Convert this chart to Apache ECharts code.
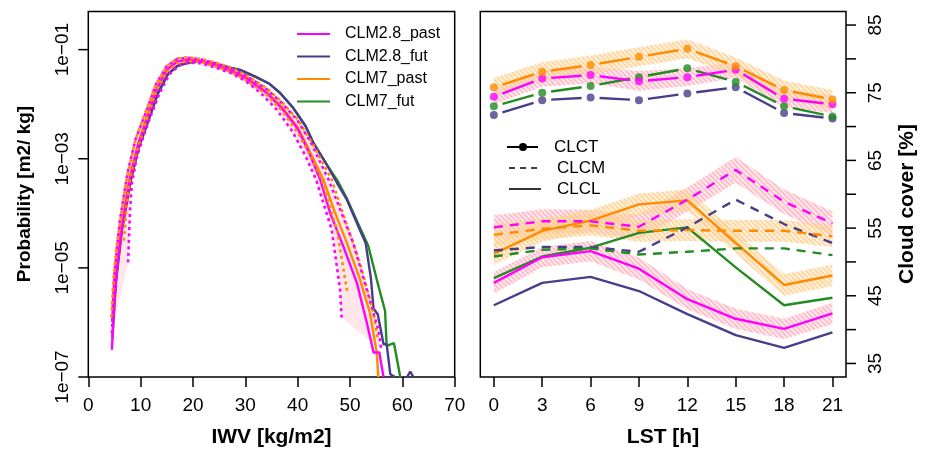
<!DOCTYPE html>
<html><head><meta charset="utf-8">
<script src="https://cdn.jsdelivr.net/npm/echarts@6/dist/echarts.min.js"></script>
<style>html,body{margin:0;padding:0;background:#fff}#c{width:928px;height:453px}</style>
</head><body><div id="c"></div>
<script>
// ================= LEFT PANEL DATA (IWV pdf) =================
const iwvTicks = [0, 10, 20, 30, 40, 50, 60, 70];
const probTickValues = [1e-7, 1e-5, 1e-3, 1e-1];
const probTickLabels = ['1e\u221207', '1e\u221205', '1e\u221203', '1e\u221201'];

const c28past_x = [4.5, 5.0, 5.5, 6.4, 8.0, 9.5, 11.2, 13.1, 15.0, 17.0, 19.0, 21.3, 24, 27, 30, 34, 37, 40, 42, 44.3, 46.2, 48.7, 51.3, 53.2, 54.5, 55.6, 56.4];
const c28past_p = [3.16e-7, 2.51e-6, 1e-5, 5.01e-5, 4.47e-4, 1.78e-3, 5.25e-3, 1.86e-2, 4.27e-2, 6.03e-2, 6.46e-2, 6.17e-2, 5.25e-2, 4.17e-2, 3.02e-2, 1.62e-2, 8.32e-3, 3.55e-3, 1.41e-3, 4.17e-4, 1.02e-4, 2.51e-5, 5.37e-6, 1e-6, 2.82e-7, 2.82e-7, 1e-7];

const c28fut_x = [4.6, 5.3, 6.4, 8.1, 9.6, 11.4, 13.3, 15.2, 17.0, 19.0, 21.5, 24, 27, 29, 32, 34.5, 36.6, 39, 41.5, 43.0, 45.5, 47.5, 49.4, 51.6, 53.0, 54.0, 54.5, 55.3, 56.0, 56.4, 57.0, 57.7, 58.6];
const c28fut_p = [1e-6, 6.31e-6, 5.01e-5, 3.98e-4, 1.58e-3, 4.79e-3, 1.58e-2, 3.55e-2, 5.01e-2, 5.75e-2, 6.03e-2, 5.50e-2, 4.68e-2, 4.27e-2, 3.16e-2, 2.40e-2, 1.62e-2, 8.91e-3, 3.98e-3, 1.95e-3, 7.94e-4, 3.63e-4, 1.78e-4, 5.75e-5, 2.82e-5, 6.31e-6, 1.78e-6, 1.41e-6, 6.31e-7, 3.98e-7, 3.98e-7, 1.12e-7, 1e-7];
// isolated far-tail blip of CLM2.8_fut
const c28futTail_x = [60.9, 61.5, 62.1];
const c28futTail_p = [1e-7, 1.25e-7, 1e-7];

const c7past_x = [4.6, 5.3, 6.3, 7.9, 9.5, 11.1, 13, 15, 17, 19, 21.3, 24, 27, 30, 34, 37, 40, 42.5, 44.9, 47, 49.4, 51.9, 53.8, 55.1, 55.4];
const c7past_p = [1.86e-6, 1e-5, 5.62e-5, 4.68e-4, 1.86e-3, 5.62e-3, 1.91e-2, 4.27e-2, 6.03e-2, 6.46e-2, 6.17e-2, 5.25e-2, 4.27e-2, 3.16e-2, 1.70e-2, 8.91e-3, 3.80e-3, 1.26e-3, 4.17e-4, 1.12e-4, 2.88e-5, 6.17e-6, 1.51e-6, 2.82e-7, 1e-7];

const c7fut_x = [4.6, 5.3, 6.4, 8.1, 9.6, 11.4, 13.3, 15.2, 17, 19, 21.5, 24, 27, 29, 32, 34.5, 36.6, 39, 41.5, 43.0, 45.5, 47.6, 49.5, 51.8, 53.5, 55.1, 56.7, 57.0, 58.4, 59.6];
const c7fut_p = [5.01e-7, 5.62e-6, 4.79e-5, 3.98e-4, 1.58e-3, 4.79e-3, 1.58e-2, 3.55e-2, 5.01e-2, 5.89e-2, 6.17e-2, 5.62e-2, 4.68e-2, 4.27e-2, 3.16e-2, 2.40e-2, 1.62e-2, 8.91e-3, 3.98e-3, 1.95e-3, 7.94e-4, 3.98e-4, 1.78e-4, 5.75e-5, 2.51e-5, 6.17e-6, 1.62e-6, 3.72e-7, 4.17e-7, 1e-7];

// spread (dotted) bounds
const c28upper_x = [4.5, 5.0, 6.0, 7.5, 9, 11, 13, 15, 17, 19, 21.5, 24, 27, 30, 34, 37, 40, 42.5, 45.9, 48, 50.6, 53.2, 55.4, 56.0];
const c28upper_p = [6.31e-7, 7.94e-6, 7.08e-5, 5.62e-4, 2.24e-3, 7.08e-3, 2.40e-2, 5.01e-2, 6.76e-2, 7.08e-2, 6.61e-2, 5.75e-2, 4.68e-2, 3.39e-2, 1.91e-2, 1.05e-2, 5.01e-3, 2.0e-3, 4.17e-4, 1.26e-4, 2.88e-5, 3.98e-6, 7.41e-7, 3.16e-7];
const c28lower_x = [7.6, 7.95, 8.3, 9.2, 10.5, 12, 13.6, 15.5, 17.5, 19.5, 21.5, 24, 27, 30, 33, 36, 39, 41.5, 43.5, 46.5, 48.1, 48.4];
const c28lower_p = [1.26e-5, 1e-4, 3.39e-4, 1e-3, 2.51e-3, 6.31e-3, 1.58e-2, 3.55e-2, 5.25e-2, 5.75e-2, 5.62e-2, 4.79e-2, 3.80e-2, 2.69e-2, 1.58e-2, 7.94e-3, 3.16e-3, 1.12e-3, 4.17e-4, 5.01e-5, 3.98e-6, 1.20e-6];
const c7upper_x = [4.4, 4.8, 5.4, 6.3, 7.3, 9, 11, 13, 15, 17, 19, 21.5, 24, 27, 30, 34, 37, 40, 43, 46.5, 49, 51.9, 54.5, 55.3];
const c7upper_p = [1.26e-6, 6.31e-6, 2.51e-5, 1e-4, 4.17e-4, 2.24e-3, 7.59e-3, 2.40e-2, 5.01e-2, 6.92e-2, 7.24e-2, 6.76e-2, 5.89e-2, 4.79e-2, 3.47e-2, 2.0e-2, 1.10e-2, 5.25e-3, 1.78e-3, 4.17e-4, 7.94e-5, 1.23e-5, 1.51e-6, 5.01e-7];
const c7lower_x = [6.8, 7.3, 8, 9.5, 11.2, 13, 15, 17, 19, 21.5, 24, 27, 30, 34, 37, 40, 42.5, 44.6, 47.5, 49.5];
const c7lower_p = [3.16e-5, 1.26e-4, 4.47e-4, 1.58e-3, 5.25e-3, 1.78e-2, 3.98e-2, 5.62e-2, 6.17e-2, 5.89e-2, 5.01e-2, 3.98e-2, 2.82e-2, 1.51e-2, 7.59e-3, 3.02e-3, 1.12e-3, 4.17e-4, 5.01e-5, 3.47e-6];

const leftLegend = ['CLM2.8_past', 'CLM2.8_fut', 'CLM7_past', 'CLM7_fut'];

// ================= RIGHT PANEL DATA (diurnal cycle) =================
const lstHours = [0, 3, 6, 9, 12, 15, 18, 21];
const cloudTicks = [35, 40, 45, 50, 55, 60, 65, 70, 75, 80, 85];
const cloudLabels = [35, 45, 55, 65, 75, 85];

const clct_c28past = [74.4, 77.1, 77.6, 76.7, 77.3, 78.4, 74.1, 73.3];
const clct_c28fut  = [71.7, 73.9, 74.3, 73.9, 74.9, 75.8, 72.0, 71.2];
const clct_c7past  = [75.8, 78.1, 79.1, 80.3, 81.5, 78.9, 75.4, 74.0];
const clct_c7fut   = [73.0, 75.0, 76.0, 77.3, 78.6, 76.6, 73.0, 71.5];

const clcm_c28past = [55.1, 56.0, 56.0, 55.2, 59.2, 63.6, 58.9, 55.7];
const clcm_c28fut  = [51.7, 52.2, 52.2, 51.5, 55.1, 59.2, 55.6, 52.8];
const clcm_c7past  = [54.0, 54.9, 55.4, 54.6, 54.7, 54.6, 54.6, 53.8];
const clcm_c7fut   = [50.8, 51.8, 52.0, 51.1, 51.5, 52.0, 52.0, 51.0];

const clcl_c28past = [46.9, 50.7, 51.6, 49.0, 44.5, 41.6, 40.1, 42.4];
const clcl_c28fut  = [43.6, 46.9, 47.8, 45.7, 42.3, 39.2, 37.3, 39.6];
const clcl_c7past  = [51.2, 54.6, 56.1, 58.5, 59.1, 52.8, 46.6, 48.0];
const clcl_c7fut   = [47.6, 50.8, 52.1, 54.3, 55.1, 49.2, 43.6, 44.7];

// spread bands (past runs)
const clct_c28past_lo = [73.3, 75.9, 76.4, 75.3, 76.0, 77.2, 72.8, 72.0];
const clct_c28past_hi = [75.5, 78.3, 78.8, 78.2, 78.6, 79.5, 75.4, 74.6];
const clct_c7past_lo  = [74.6, 76.8, 77.7, 78.9, 80.1, 77.5, 74.0, 72.6];
const clct_c7past_hi  = [77.2, 79.5, 80.5, 81.7, 82.9, 80.2, 76.8, 75.4];
const clcm_c28past_lo = [53.3, 54.2, 54.3, 53.4, 57.4, 61.7, 57.1, 53.9];
const clcm_c28past_hi = [56.9, 57.8, 57.7, 57.0, 61.0, 65.5, 60.7, 57.5];
const clcm_c7past_lo  = [52.4, 53.3, 53.9, 53.0, 53.1, 53.0, 53.0, 52.2];
const clcm_c7past_hi  = [55.6, 56.5, 57.0, 56.2, 56.3, 56.2, 56.2, 55.4];
const clcl_c28past_lo = [45.3, 49.2, 50.1, 47.4, 43.0, 40.1, 38.6, 40.8];
const clcl_c28past_hi = [48.5, 52.2, 53.1, 50.6, 46.0, 43.1, 41.6, 44.0];
const clcl_c7past_lo  = [49.6, 53.0, 54.5, 56.9, 57.5, 51.2, 45.0, 46.4];
const clcl_c7past_hi  = [52.8, 56.2, 57.7, 60.1, 60.7, 54.4, 48.2, 49.6];

const rightLegend = ['CLCT', 'CLCM', 'CLCL'];

// ================= STYLE =================
const COL = { c28past: '#FF00FF', c28fut: '#483D8B', c7past: '#FF8C00', c7fut: '#228B22' };
const FONT = "'Liberation Sans', Arial, Helvetica, sans-serif";

function hatch(r, g, b) {
  const n = 5;
  const cv = document.createElement('canvas'); cv.width = n; cv.height = n;
  const ctx = cv.getContext('2d');
  ctx.fillStyle = `rgba(${r},${g},${b},0.30)`; ctx.fillRect(0, 0, n, n);
  ctx.strokeStyle = `rgba(${r},${g},${b},0.9)`; ctx.lineWidth = 1.4;
  ctx.beginPath();
  ctx.moveTo(-1, -1); ctx.lineTo(n + 1, n + 1);
  ctx.moveTo(-1, n - 1); ctx.lineTo(1, n + 1);
  ctx.moveTo(n - 1, -1); ctx.lineTo(n + 1, 1);
  ctx.stroke();
  return { image: cv, repeat: 'repeat' };
}
const pinkHatch = hatch(255, 175, 190);
const orangeHatch = hatch(255, 205, 140);

const zip = (xs, ys) => xs.map((x, i) => [x, ys[i]]);

function pdfLine(xs, ps, color, dotted, z) {
  return {
    type: 'line', xAxisIndex: 0, yAxisIndex: 0, data: zip(xs, ps),
    showSymbol: false, symbol: 'none', silent: true, clip: true, z: z,
    lineStyle: dotted ? { color: color, width: 2.6, type: [3, 3.5] } : { color: color, width: 2.4 }
  };
}

function pdfBand(ux, up, lx, lp, fill) {
  return {
    type: 'custom', xAxisIndex: 0, yAxisIndex: 0, clip: true, silent: true, z: 1,
    data: zip(ux, up), encode: { x: 0, y: 1 },
    renderItem: function (params, api) {
      if (params.dataIndex !== 0) return null;
      const pts = [];
      for (let i = 0; i < ux.length; i++) pts.push(api.coord([ux[i], up[i]]));
      for (let i = lx.length - 1; i >= 0; i--) pts.push(api.coord([lx[i], lp[i]]));
      return { type: 'polygon', shape: { points: pts }, style: { fill: fill, stroke: null } };
    }
  };
}

function band(lo, hi, fill) {
  return {
    type: 'custom', xAxisIndex: 1, yAxisIndex: 1, clip: true, silent: true, z: 1,
    data: lstHours.map((h, i) => [h, lo[i], hi[i]]), encode: { x: 0, y: [1, 2] },
    renderItem: function (params, api) {
      if (params.dataIndex !== 0) return null;
      const pts = [];
      for (let i = 0; i < lstHours.length; i++) pts.push(api.coord([lstHours[i], hi[i]]));
      for (let i = lstHours.length - 1; i >= 0; i--) pts.push(api.coord([lstHours[i], lo[i]]));
      return { type: 'polygon', shape: { points: pts }, style: { fill: fill, stroke: null } };
    }
  };
}

function diurnal(vals, color, dashed) {
  return {
    type: 'line', xAxisIndex: 1, yAxisIndex: 1, data: zip(lstHours, vals),
    showSymbol: false, symbol: 'none', silent: true, z: 3,
    lineStyle: dashed ? { color: color, width: 2.4, type: [9, 7] } : { color: color, width: 2.4 }
  };
}

// type="b": segments with gaps around the points
function gapLine(vals, color) {
  return {
    type: 'custom', xAxisIndex: 1, yAxisIndex: 1, silent: true, z: 3,
    data: zip(lstHours, vals), encode: { x: 0, y: 1 },
    renderItem: function (params, api) {
      const i = params.dataIndex;
      if (i >= lstHours.length - 1) return null;
      const a = api.coord([lstHours[i], vals[i]]);
      const b = api.coord([lstHours[i + 1], vals[i + 1]]);
      const dx = b[0] - a[0], dy = b[1] - a[1], L = Math.hypot(dx, dy), g = 9;
      return { type: 'line', shape: { x1: a[0] + dx * g / L, y1: a[1] + dy * g / L, x2: b[0] - dx * g / L, y2: b[1] - dy * g / L },
        style: { stroke: color, lineWidth: 2.4 } };
    }
  };
}
function dots(vals, color) {
  return {
    type: 'scatter', xAxisIndex: 1, yAxisIndex: 1, data: zip(lstHours, vals), silent: true, z: 4,
    symbol: 'circle', symbolSize: 8, itemStyle: { color: color }
  };
}

const tickStyle = { show: true, length: 10, inside: false, lineStyle: { color: '#000', width: 1.5 } };
const labelBase = { color: '#000', fontFamily: FONT, fontSize: 19 };

const option = {
  animation: false,
  backgroundColor: '#fff',
  grid: [
    { left: 88.3, top: 11.5, width: 366.4, height: 365.5, show: true, borderColor: '#000', borderWidth: 1.5, backgroundColor: 'transparent', containLabel: false, outerBoundsMode: 'none' },
    { left: 480.3, top: 11.5, width: 365.7, height: 365.5, show: true, borderColor: '#000', borderWidth: 1.5, backgroundColor: 'transparent', containLabel: false, outerBoundsMode: 'none' }
  ],
  xAxis: [
    { type: 'value', gridIndex: 0, min: 0, max: 70, interval: 10,
      axisLine: { show: false }, splitLine: { show: false },
      axisTick: tickStyle,
      axisLabel: Object.assign({ margin: 19, showMinLabel: true, showMaxLabel: true, customValues: iwvTicks }, labelBase) },
    { type: 'value', gridIndex: 1, min: -0.84, max: 21.84,
      axisLine: { show: false }, splitLine: { show: false },
      axisTick: Object.assign({ customValues: lstHours }, tickStyle),
      axisLabel: Object.assign({ margin: 19, customValues: lstHours }, labelBase) }
  ],
  yAxis: [
    { type: 'log', gridIndex: 0, logBase: 10, min: 1e-7, max: 0.5,
      axisLine: { show: false }, splitLine: { show: false },
      axisTick: { show: false },
      axisLabel: Object.assign({ margin: 16, rotate: 90, customValues: probTickValues,
        formatter: function (v) {
          const i = probTickValues.findIndex(t => Math.abs(Math.log10(t) - Math.log10(v)) < 1e-6);
          return i >= 0 ? probTickLabels[i] : '';
        } }, labelBase) },
    { type: 'value', gridIndex: 1, position: 'right', min: 33, max: 87,
      axisLine: { show: false }, splitLine: { show: false },
      axisTick: { show: false },
      axisLabel: Object.assign({ margin: 20, rotate: 90, customValues: cloudLabels }, labelBase) }
  ],
  series: [
    // left panel
    pdfBand(c28upper_x, c28upper_p, c28lower_x, c28lower_p, 'rgba(255,192,203,0.40)'),
    pdfLine(c7fut_x, c7fut_p, COL.c7fut, false, 2),
    pdfLine(c28fut_x, c28fut_p, COL.c28fut, false, 2),
    pdfLine(c28futTail_x, c28futTail_p, COL.c28fut, false, 2),
    pdfLine(c7past_x, c7past_p, COL.c7past, false, 2),
    pdfLine(c28past_x, c28past_p, COL.c28past, false, 2),
    pdfLine(c7upper_x, c7upper_p, COL.c7past, true, 3),
    pdfLine(c7lower_x, c7lower_p, COL.c7past, true, 3),
    pdfLine(c28upper_x, c28upper_p, COL.c28past, true, 3),
    pdfLine(c28lower_x, c28lower_p, COL.c28past, true, 3),
    // right panel bands
    band(clct_c28past_lo, clct_c28past_hi, pinkHatch),
    band(clcm_c28past_lo, clcm_c28past_hi, pinkHatch),
    band(clcl_c28past_lo, clcl_c28past_hi, pinkHatch),
    band(clct_c7past_lo, clct_c7past_hi, orangeHatch),
    band(clcm_c7past_lo, clcm_c7past_hi, orangeHatch),
    band(clcl_c7past_lo, clcl_c7past_hi, orangeHatch),
    // CLCL
    diurnal(clcl_c28fut, COL.c28fut, false),
    diurnal(clcl_c7fut, COL.c7fut, false),
    diurnal(clcl_c7past, COL.c7past, false),
    diurnal(clcl_c28past, COL.c28past, false),
    // CLCM
    diurnal(clcm_c28fut, COL.c28fut, true),
    diurnal(clcm_c7fut, COL.c7fut, true),
    diurnal(clcm_c7past, COL.c7past, true),
    diurnal(clcm_c28past, COL.c28past, true),
    // CLCT
    gapLine(clct_c28fut, COL.c28fut), dots(clct_c28fut, COL.c28fut),
    gapLine(clct_c7fut, COL.c7fut), dots(clct_c7fut, COL.c7fut),
    gapLine(clct_c28past, COL.c28past), dots(clct_c28past, COL.c28past),
    gapLine(clct_c7past, COL.c7past), dots(clct_c7past, COL.c7past)
  ],
  graphic: []
};

// axis titles
const titleStyle = { fill: '#000', fontFamily: FONT, fontWeight: 'bold', align: 'center', verticalAlign: 'middle' };
option.graphic.push(
  { type: 'text', x: 271.5, y: 437, style: Object.assign({ text: 'IWV [kg/m2]', fontSize: 21 }, titleStyle) },
  { type: 'text', x: 663, y: 437, style: Object.assign({ text: 'LST [h]', fontSize: 21 }, titleStyle) },
  { type: 'text', x: 25, y: 194, rotation: Math.PI / 2, style: Object.assign({ text: 'Probability [m2/ kg]', fontSize: 19 }, titleStyle) },
  { type: 'text', x: 907, y: 204, rotation: Math.PI / 2, style: Object.assign({ text: 'Cloud cover [%]', fontSize: 21 }, titleStyle) }
);

// left legend
const legCols = [COL.c28past, COL.c28fut, COL.c7past, COL.c7fut];
const legY = [34, 56.5, 79, 101.5];
leftLegend.forEach((name, i) => {
  option.graphic.push(
    { type: 'line', shape: { x1: 297, y1: legY[i], x2: 330, y2: legY[i] }, style: { stroke: legCols[i], lineWidth: 2 } },
    { type: 'text', x: 345, y: legY[i], style: { text: name, fill: '#000', fontFamily: FONT, fontSize: 16, verticalAlign: 'middle', align: 'left' } }
  );
});

// right legend
const rY = [147, 168, 189];
option.graphic.push(
  { type: 'line', shape: { x1: 507, y1: rY[0], x2: 538, y2: rY[0] }, style: { stroke: '#000', lineWidth: 2 } },
  { type: 'circle', shape: { cx: 523, cy: rY[0], r: 4 }, style: { fill: '#000' } },
  { type: 'line', shape: { x1: 509, y1: rY[1], x2: 541, y2: rY[1] }, style: { stroke: '#000', lineWidth: 1.6, lineDash: [6, 5] } },
  { type: 'line', shape: { x1: 509, y1: rY[2], x2: 541, y2: rY[2] }, style: { stroke: '#000', lineWidth: 1.6 } }
);
const rX = [554, 557, 557];
rightLegend.forEach((name, i) => {
  option.graphic.push({ type: 'text', x: rX[i], y: rY[i], style: { text: name, fill: '#000', fontFamily: FONT, fontSize: 17, verticalAlign: 'middle', align: 'left' } });
});

const chart = echarts.init(document.getElementById('c'), null, { renderer: 'canvas' });
chart.setOption(option);

// y-axis tick marks, positioned through the axes' own scales
const yTicks = [];
const leftEdge = chart.convertToPixel({ xAxisIndex: 0 }, 0);
probTickValues.forEach(v => {
  const y = chart.convertToPixel({ yAxisIndex: 0 }, v);
  yTicks.push({ type: 'line', shape: { x1: leftEdge - 10, y1: y, x2: leftEdge, y2: y }, style: { stroke: '#000', lineWidth: 1.5 } });
});
const rightEdge = chart.convertToPixel({ xAxisIndex: 1 }, 21.84);
cloudTicks.forEach(v => {
  const y = chart.convertToPixel({ yAxisIndex: 1 }, v);
  yTicks.push({ type: 'line', shape: { x1: rightEdge, y1: y, x2: rightEdge + 10, y2: y }, style: { stroke: '#000', lineWidth: 1.5 } });
});
chart.setOption({ graphic: option.graphic.concat(yTicks) });
</script>
</body></html>
